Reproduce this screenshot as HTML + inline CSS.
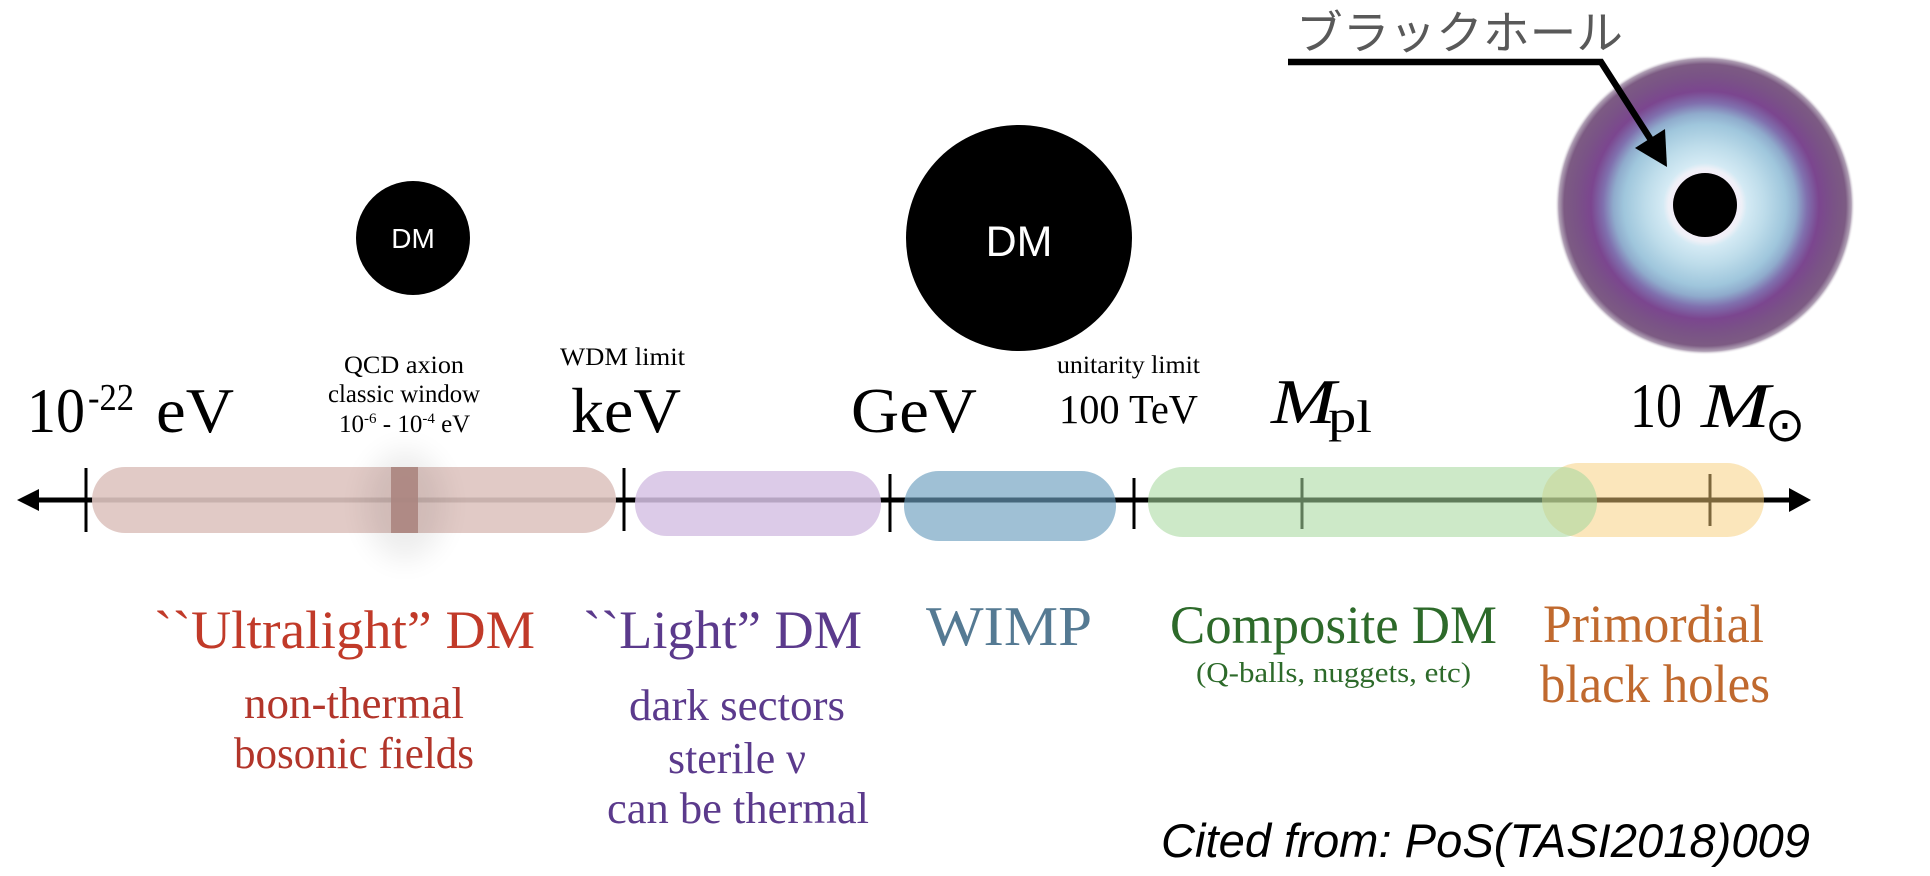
<!DOCTYPE html>
<html>
<head>
<meta charset="utf-8">
<style>
html,body{margin:0;padding:0;background:#fff;}
svg{display:block;}
</style>
</head>
<body>
<svg width="1930" height="876" viewBox="0 0 1930 876" xmlns="http://www.w3.org/2000/svg">
<defs>
<radialGradient id="bh" cx="0.5" cy="0.5" r="0.5">
<stop offset="0" stop-color="#e6f3f9"/>
<stop offset="0.215" stop-color="#f3eef8"/>
<stop offset="0.245" stop-color="#eef0f7"/>
<stop offset="0.28" stop-color="#d4eaf4"/>
<stop offset="0.40" stop-color="#bddcea"/>
<stop offset="0.54" stop-color="#9fc6dc"/>
<stop offset="0.61" stop-color="#8fabcc"/>
<stop offset="0.68" stop-color="#8070ae"/>
<stop offset="0.76" stop-color="#7b468f"/>
<stop offset="0.86" stop-color="#7a5386"/>
<stop offset="0.94" stop-color="#7c5b83"/>
<stop offset="0.975" stop-color="#9a86a0" stop-opacity="0.8"/>
<stop offset="1" stop-color="#ffffff" stop-opacity="0"/>
</radialGradient>
<filter id="blur" x="-50%" y="-50%" width="200%" height="200%">
<feGaussianBlur stdDeviation="14"/>
</filter>
</defs>

<rect width="1930" height="876" fill="#fff"/>

<!-- DM circles -->
<circle cx="413" cy="238" r="57" fill="#000"/>
<text x="413" y="248" font-family="'Liberation Sans', Arial, sans-serif" font-size="28" fill="#fff" text-anchor="middle">DM</text>
<circle cx="1019" cy="238" r="113" fill="#000"/>
<text x="1019" y="256" font-family="'Liberation Sans', Arial, sans-serif" font-size="43" fill="#fff" text-anchor="middle">DM</text>

<!-- black hole -->
<circle cx="1705" cy="205" r="150" fill="url(#bh)"/>
<circle cx="1705" cy="205" r="32" fill="#000"/>

<!-- black hole label -->
<text x="1296" y="49" font-family="'Liberation Sans', 'Noto Sans CJK JP', sans-serif" font-size="46" fill="#595959" textLength="327" lengthAdjust="spacingAndGlyphs">ブラックホール</text>
<polyline points="1288,62 1601,62 1651,140" fill="none" stroke="#000" stroke-width="6.5" stroke-linejoin="miter"/>
<polygon points="1667,167 1635,148 1665,129" fill="#000"/>

<!-- top labels -->
<g font-family="'Liberation Serif', 'Times New Roman', serif" fill="#000">
<text x="27" y="432" font-size="64" textLength="58" lengthAdjust="spacingAndGlyphs">10</text>
<text x="88" y="410" font-size="38" textLength="46" lengthAdjust="spacingAndGlyphs">-22</text>
<text x="156" y="432" font-size="64" textLength="78" lengthAdjust="spacingAndGlyphs">eV</text>

<text x="344" y="373" font-size="25" textLength="120" lengthAdjust="spacingAndGlyphs">QCD axion</text>
<text x="328" y="402" font-size="25" textLength="152" lengthAdjust="spacingAndGlyphs">classic window</text>
<text x="339" y="432" font-size="25">10<tspan font-size="15" dy="-9">-6</tspan><tspan dy="9"> - 10</tspan><tspan font-size="15" dy="-9">-4</tspan><tspan dy="9"> eV</tspan></text>

<text x="560" y="365" font-size="25" textLength="125" lengthAdjust="spacingAndGlyphs">WDM limit</text>
<text x="571" y="432" font-size="64" textLength="110" lengthAdjust="spacingAndGlyphs">keV</text>

<text x="851" y="432" font-size="64" textLength="126" lengthAdjust="spacingAndGlyphs">GeV</text>

<text x="1057" y="373" font-size="25" textLength="143" lengthAdjust="spacingAndGlyphs">unitarity limit</text>
<text x="1059" y="423" font-size="41" textLength="139" lengthAdjust="spacingAndGlyphs">100 TeV</text>

<text x="1271" y="423" font-size="64" font-style="italic" textLength="65" lengthAdjust="spacingAndGlyphs">M</text>
<text x="1328" y="432" font-size="46" textLength="44" lengthAdjust="spacingAndGlyphs">pl</text>

<text x="1630" y="427" font-size="64" textLength="52" lengthAdjust="spacingAndGlyphs">10</text>
<text x="1701" y="427" font-size="64" font-style="italic" textLength="69" lengthAdjust="spacingAndGlyphs">M</text>
<text x="1785" y="441" font-size="48" font-family="'DejaVu Sans', sans-serif" text-anchor="middle">⊙</text>
</g>

<!-- axis -->
<line x1="30" y1="500" x2="1795" y2="500" stroke="#000" stroke-width="5"/>
<polygon points="17,500 39,489 39,511" fill="#000"/>
<polygon points="1811,500 1789,488 1789,512" fill="#000"/>

<!-- ticks -->
<line x1="86" y1="468" x2="86" y2="532" stroke="#000" stroke-width="3"/>
<line x1="624" y1="468" x2="624" y2="531" stroke="#000" stroke-width="3"/>
<line x1="890" y1="474" x2="890" y2="532" stroke="#000" stroke-width="3"/>
<line x1="1134" y1="478" x2="1134" y2="529" stroke="#000" stroke-width="3"/>
<line x1="1302" y1="478" x2="1302" y2="529" stroke="#000" stroke-width="3"/>
<line x1="1710" y1="474" x2="1710" y2="526" stroke="#000" stroke-width="3"/>

<!-- pills -->
<rect x="92" y="467" width="524" height="66" rx="33" fill="rgb(222,196,192)" fill-opacity="0.9"/>
<ellipse cx="405" cy="505" rx="40" ry="55" fill="#000" opacity="0.07" filter="url(#blur)"/>
<rect x="391" y="467" width="27" height="66" fill="rgb(171,133,128)" fill-opacity="0.9"/>
<rect x="635" y="471" width="246" height="65" rx="32" fill="rgb(214,194,228)" fill-opacity="0.85"/>
<rect x="904" y="471" width="212" height="70" rx="35" fill="rgb(107,158,190)" fill-opacity="0.65"/>
<rect x="1542" y="463" width="222" height="74" rx="37" fill="rgb(247,205,119)" fill-opacity="0.5"/>
<rect x="1148" y="467" width="449" height="70" rx="35" fill="rgb(167,216,159)" fill-opacity="0.57"/>

<!-- bottom labels -->
<g font-family="'Liberation Serif', 'Times New Roman', serif">
<text x="154" y="648" font-size="54" fill="#c13a29" textLength="381" lengthAdjust="spacingAndGlyphs">``Ultralight” DM</text>
<text x="244" y="718" font-size="44" fill="#b2352a" textLength="220" lengthAdjust="spacingAndGlyphs">non-thermal</text>
<text x="234" y="768" font-size="44" fill="#b2352a" textLength="240" lengthAdjust="spacingAndGlyphs">bosonic fields</text>

<text x="583" y="648" font-size="54" fill="#5b3a8c" textLength="279" lengthAdjust="spacingAndGlyphs">``Light” DM</text>
<text x="629" y="720" font-size="44" fill="#5b3a8c" textLength="216" lengthAdjust="spacingAndGlyphs">dark sectors</text>
<text x="668" y="773" font-size="44" fill="#5b3a8c" textLength="138" lengthAdjust="spacingAndGlyphs">sterile ν</text>
<text x="607" y="823" font-size="44" fill="#5b3a8c" textLength="262" lengthAdjust="spacingAndGlyphs">can be thermal</text>

<text x="926" y="645" font-size="56" fill="#557a93" textLength="166" lengthAdjust="spacingAndGlyphs">WIMP</text>

<text x="1170" y="643" font-size="54" fill="#2d6a2a" textLength="327" lengthAdjust="spacingAndGlyphs">Composite DM</text>
<text x="1196" y="682" font-size="29" fill="#2d6a2a" textLength="275" lengthAdjust="spacingAndGlyphs">(Q-balls, nuggets, etc)</text>

<text x="1543" y="642" font-size="54" fill="#c0692e" textLength="221" lengthAdjust="spacingAndGlyphs">Primordial</text>
<text x="1540" y="702" font-size="54" fill="#c0692e" textLength="230" lengthAdjust="spacingAndGlyphs">black holes</text>
</g>

<text x="1161" y="857" font-family="'Liberation Sans', Arial, sans-serif" font-size="47" font-style="italic" fill="#000" textLength="649" lengthAdjust="spacingAndGlyphs">Cited from: PoS(TASI2018)009</text>
</svg>
</body>
</html>
